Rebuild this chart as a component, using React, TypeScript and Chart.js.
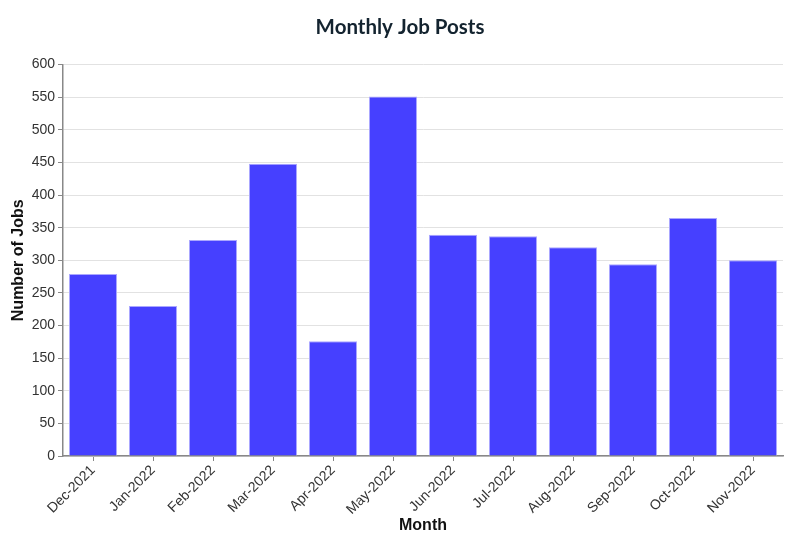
import React, { useEffect, useRef } from "react";
import { Chart, registerables } from "chart.js";

Chart.register(...registerables);

const months = [
  "Dec-2021", "Jan-2022", "Feb-2022", "Mar-2022", "Apr-2022", "May-2022",
  "Jun-2022", "Jul-2022", "Aug-2022", "Sep-2022", "Oct-2022", "Nov-2022",
];
const jobCounts = [279, 230, 331, 448, 176, 551, 339, 337, 320, 294, 365, 300];

const chartTitle = "Monthly Job Posts";
const xTitle = "Month";
const yTitle = "Number of Jobs";

export default function App() {
  const ref = useRef<HTMLCanvasElement | null>(null);
  useEffect(() => {
    if (!ref.current) return;
    const chart = new Chart(ref.current, {
      type: "bar",
      data: {
        labels: months,
        datasets: [
          {
            data: jobCounts,
            backgroundColor: "#4640ff",
            borderColor: "#aaa7ff",
            borderWidth: 1,
            barPercentage: 0.8,
            categoryPercentage: 1,
          },
        ],
      },
      options: {
        animation: false,
        responsive: false,
        maintainAspectRatio: false,
        layout: { padding: 0 },
        plugins: {
          legend: { display: false },
          tooltip: { enabled: false },
          title: {
            display: true,
            text: chartTitle,
            color: "#13232f",
            font: { family: "Lato", size: 20.5, weight: "bold" },
            padding: { top: 15, bottom: 25 },
          },
        },
        scales: {
          x: {
            afterFit: (s: any) => {
              s.height = 85;
              s.paddingLeft = 0;
              s.paddingRight = 17;
            },
            grid: {
              display: true,
              drawOnChartArea: false,
              drawTicks: true,
              tickLength: 5,
              color: "#888",
              offset: false,
            },
            border: { color: "#888", width: 1.5 },
            ticks: {
              color: "#333",
              font: { family: "Liberation Sans", size: 14 },
              maxRotation: 45,
              minRotation: 45,
              padding: 1,
            },
            title: {
              display: true,
              text: xTitle,
              color: "#111",
              font: { family: "Liberation Sans", size: 16, weight: "bold" },
              padding: { top: 0, bottom: 6 },
            },
          },
          y: {
            afterFit: (s: any) => {
              s.width = 63;
              s.paddingTop = 0;
              s.paddingBottom = 0;
            },
            min: 0,
            max: 600,
            ticks: {
              stepSize: 50,
              color: "#333",
              font: { family: "Liberation Sans", size: 14 },
              padding: 3,
            },
            grid: {
              color: "#e2e2e2",
              tickColor: "#888",
              tickLength: 5,
              lineWidth: 1,
            },
            border: { color: "#888", width: 1.5 },
            title: {
              display: true,
              text: yTitle,
              color: "#111",
              font: { family: "Liberation Sans", size: 16, weight: "bold" },
              padding: { top: 9, bottom: 2 },
            },
          },
        },
      },
    });
    return () => chart.destroy();
  }, []);
  return (
    <div style={{ position: "fixed", left: 0, top: 0, width: 800, height: 541, background: "#fff" }}>
      <canvas ref={ref} width={800} height={541} style={{ width: 800, height: 541 }} />
    </div>
  );
}
